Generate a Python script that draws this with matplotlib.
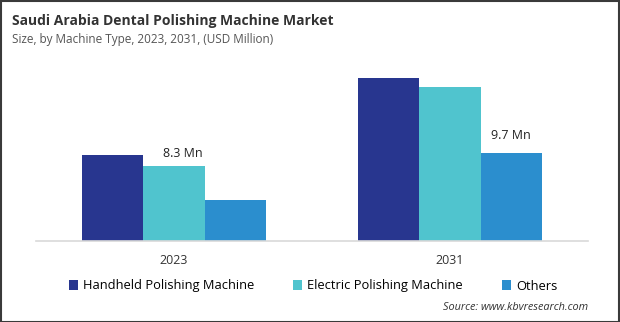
import numpy as np
import matplotlib
matplotlib.use("Agg")
import matplotlib.pyplot as plt
from matplotlib.patches import Rectangle

# Data
years = ["2023", "2031"]
series = ["Handheld Polishing Machine", "Electric Polishing Machine", "Others"]
handheld = [9.5, 18.0]
electric = [8.3, 17.0]
others = [4.5, 9.7]
colors = ["#28368F", "#50C4CE", "#2B8ECE"]

plt.rcParams['font.family'] = ['Open Sans', 'DejaVu Sans']

fig = plt.figure(figsize=(6.2, 3.22), dpi=100)
ax = fig.add_axes([36 / 620, 81 / 322, 552 / 620, 181 / 322])

x = np.arange(len(years))
w = 0.2214
values = [handheld, electric, others]
bars = []
for i, (vals, c) in enumerate(zip(values, colors)):
    b = ax.bar(x + (i - 1) * w, vals, w, color=c, label=series[i])
    bars.append(b)

# data labels
ax.annotate("8.3 Mn", (x[0], electric[0]), xytext=(6, 4), textcoords="offset points",
            ha="center", va="bottom", fontsize=9, color="#222222")
ax.annotate("9.7 Mn", (x[1] + w, others[1]), xytext=(0, 8), textcoords="offset points",
            ha="center", va="bottom", fontsize=9, color="#222222")

ax.set_xlim(-0.5, 1.5)
ax.set_ylim(0, 20)
ax.set_xticks(x)
ax.set_xticklabels(years, fontsize=9, color="#333333")
ax.tick_params(axis="x", length=0, pad=9)
ax.set_yticks([])
for s in ["top", "right", "left"]:
    ax.spines[s].set_visible(False)
ax.spines["bottom"].set_color("#d9d9d9")
ax.spines["bottom"].set_linewidth(1.2)

fig.text(12 / 620, 1 - 21 / 322, "Saudi Arabia Dental Polishing Machine Market",
         fontsize=10, fontweight="bold", color="#333333", va="center")
fig.text(12 / 620, 1 - 40 / 322, "Size, by Machine Type, 2023, 2031, (USD Million)",
         fontsize=8.5, color="#555555", va="center")

fig.legend(handles=bars, labels=series, loc="center", bbox_to_anchor=(0.505, 1 - 286 / 322),
           ncol=3, frameon=False, fontsize=9.3, handlelength=0.7, handleheight=0.7,
           handletextpad=0.4, columnspacing=3.0)

fig.text(588 / 620, 1 - 307 / 322, "Source: www.kbvresearch.com", fontsize=7.8,
         style="italic", color="#333333", ha="right", va="center")

fig.add_artist(Rectangle((0.5 / 620, 0.5 / 322), 1 - 1.5 / 620, 1 - 1.5 / 322,
                         transform=fig.transFigure, fill=False, edgecolor="#3a3a3a", lw=1.5))

fig.savefig("out.png", dpi=100)
